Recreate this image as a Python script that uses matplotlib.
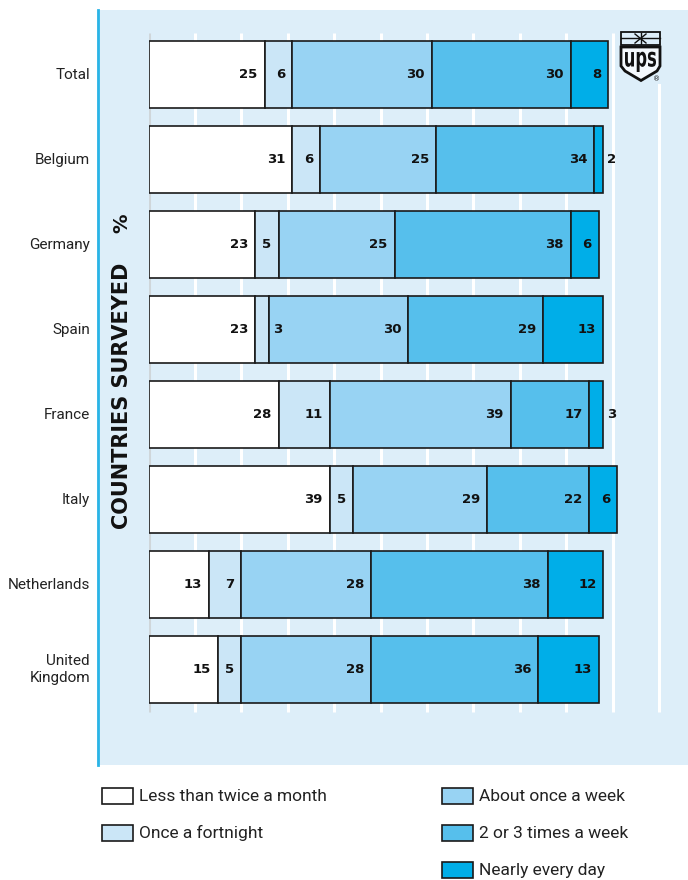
import matplotlib
matplotlib.use('Agg')
import matplotlib.pyplot as plt
from matplotlib.patches import Rectangle, Polygon, PathPatch
from matplotlib.lines import Line2D
from matplotlib.textpath import TextPath
from matplotlib.font_manager import FontProperties
from matplotlib.transforms import Affine2D

# ---------------- data ----------------
countries = ['Total', 'Belgium', 'Germany', 'Spain', 'France', 'Italy',
             'Netherlands', 'United\nKingdom']
less_than_twice_a_month = [25, 31, 23, 23, 28, 39, 13, 15]
once_a_fortnight = [6, 6, 5, 3, 11, 5, 7, 5]
about_once_a_week = [30, 25, 25, 30, 39, 29, 28, 28]
two_or_three_times_a_week = [30, 34, 38, 29, 17, 22, 38, 36]
nearly_every_day = [8, 2, 6, 13, 3, 6, 12, 13]
series_names = ['Less than twice a month', 'Once a fortnight', 'About once a week',
                '2 or 3 times a week', 'Nearly every day']
grid_ticks = list(range(0, 111, 10))

series = [less_than_twice_a_month, once_a_fortnight, about_once_a_week,
          two_or_three_times_a_week, nearly_every_day]
colors = ['#ffffff', '#cbe6f7', '#98d3f3', '#56bfec', '#00aee8']
BG = '#ddeef9'

W, H = 688, 880
fig = plt.figure(figsize=(W / 100, H / 100), dpi=100)


def fx(x):
    return x / W


def fy(y):
    return 1 - y / H


# background panel and left accent line
fig.patches.append(Rectangle((fx(97), fy(765)), fx(688) - fx(97), fy(10) - fy(765),
                             transform=fig.transFigure, facecolor=BG,
                             edgecolor='none', zorder=-5))
fig.add_artist(Line2D([fx(98), fx(98)], [fy(10), fy(765)], color='#2ab4e6', lw=2))

# axes
x0px, pxu = 148.6, 4.64
c0, pitch = 74.5, 85.0
ax = fig.add_axes([fx(x0px), fy(765), fx(688) - fx(x0px), fy(10) - fy(765)])
ax.set_zorder(2)
ax.set_facecolor('none')
ax.set_xlim(0, (688 - x0px) / pxu)
ax.set_ylim((765 - c0) / pitch, (10 - c0) / pitch)
ax.axis('off')

# gridlines
gy0, gy1 = (33 - c0) / pitch, (712 - c0) / pitch
for t in grid_ticks:
    ax.vlines(t, gy0, gy1, color='#cfd6da' if t == 0 else 'white', lw=2.2, zorder=1)

ypos = list(range(len(countries)))
left = [0] * len(countries)
for vals, col in zip(series, colors):
    ax.barh(ypos, vals, left=left, height=0.79, color=col, edgecolor='#1a1a1a',
            lw=1.2, zorder=3)
    for i, v in enumerate(vals):
        end = left[i] + v
        if v <= 3:
            ax.annotate(str(v), (end, i), xytext=(3, 0), textcoords='offset points',
                        ha='left', va='center', fontsize=9.5, fontweight='bold',
                        color='#111111', zorder=5)
        else:
            ax.annotate(str(v), (end, i), xytext=(-5, 0), textcoords='offset points',
                        ha='right', va='center', fontsize=9.5, fontweight='bold',
                        color='#111111', zorder=5)
    left = [l + v for l, v in zip(left, vals)]

# category labels
for i, name in enumerate(countries):
    ax.text(-(x0px - 90) / pxu, i, name, ha='right', va='center', fontsize=11,
            family='Roboto', color='#222222', linespacing=1.3,
            multialignment='right', clip_on=False)

# rotated axis title
fig.text(fx(122), fy(396), 'COUNTRIES SURVEYED', rotation=90, ha='center',
         va='center', fontsize=15, fontweight='bold', color='#111111')
fig.text(fx(122), fy(223), '%', rotation=90, ha='center', va='center',
         fontsize=14, fontweight='bold', color='#111111')

# legend
leg_pos = [(102, 796), (102, 833), (442, 796), (442, 833), (442, 870)]
for (lx, ly), name, col in zip(leg_pos, series_names, colors):
    fig.patches.append(Rectangle((fx(lx), fy(ly + 8)), 31 / W, 16 / H,
                                 transform=fig.transFigure, facecolor=col,
                                 edgecolor='#1a1a1a', lw=1.2))
    fig.text(fx(lx + 37), fy(ly), name, ha='left', va='center', fontsize=12.5,
             family='Roboto', color='#222222')

# UPS logo (drawn above the axes)
LZ = 10
fig.patches.append(Rectangle((fx(619), fy(84)), 44 / W, 54 / H,
                             transform=fig.transFigure, facecolor=BG,
                             edgecolor='none', zorder=LZ - 1))
fig.patches.append(Rectangle((fx(621), fy(45)), 39 / W, 13 / H,
                             transform=fig.transFigure, facecolor='none',
                             edgecolor='#111111', lw=1.3, zorder=LZ))
fig.add_artist(Line2D([fx(621), fx(660)], [fy(38.5), fy(38.5)], color='#111111',
                      lw=1, zorder=LZ))
for (xa, ya, xb, yb) in [(635, 34, 646, 43), (635, 43, 646, 34), (640.5, 33, 640.5, 44)]:
    fig.add_artist(Line2D([fx(xa), fx(xb)], [fy(ya), fy(yb)], color='#111111',
                          lw=1, zorder=LZ))
shield = [(621, 47), (660, 47), (660, 66), (657, 71), (641, 80.5), (625, 71), (621, 66)]
fig.patches.append(Polygon([(fx(a), fy(b)) for a, b in shield], closed=True,
                           transform=fig.transFigure, facecolor='#f4f9fd',
                           edgecolor='#111111', lw=2, zorder=LZ))
tp = TextPath((0, 0), 'ups', size=1, prop=FontProperties(family='DejaVu Sans', weight='bold'))
bb = tp.get_extents()
tr = (Affine2D().translate(-bb.x0, -bb.y0)
      .scale(31 / bb.width, (72 - 51.7) / bb.height)
      .translate(625, H - 72).scale(1 / W, 1 / H))
fig.patches.append(PathPatch(tr.transform_path(tp), transform=fig.transFigure,
                             facecolor='#111111', edgecolor='none', zorder=LZ + 1))
fig.text(fx(657), fy(79), '®', ha='center', va='center', fontsize=5,
         color='#111111', zorder=LZ + 1)

fig.savefig('out.png', dpi=100)
